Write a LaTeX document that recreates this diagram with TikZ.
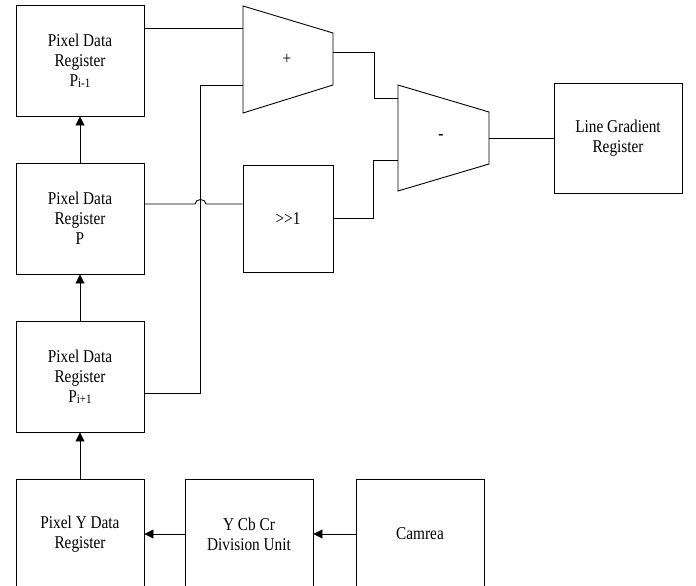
\documentclass[tikz,border=0pt]{standalone}
\usepackage{fontspec}
\setmainfont{Liberation Serif}[FakeStretch=0.85]
\usetikzlibrary{arrows.meta}
\newcommand{\sbs}[1]{\raisebox{-1pt}{\fontsize{13}{13}\selectfont #1}}
\begin{document}
\begin{tikzpicture}[x=1pt,y=-1pt,
  line width=0.9pt,
  blk/.style={draw, minimum width=128pt, minimum height=111pt, align=center,
    inner sep=0pt, font=\fontsize{18}{20}\selectfont},
  wire/.style={draw},
  arr/.style={draw, -{Triangle[length=9pt,width=9pt]}},
  lbl/.style={inner sep=0pt, font=\fontsize{18}{20}\selectfont}]
\useasboundingbox (0,0) rectangle (696,586);
\clip (0,0) rectangle (696,586);
% registers
\node[blk] (pim1) at (80,60.5) {Pixel Data\\Register\\P\sbs{i-1}};
\node[blk] (p) at (80,218.5) {Pixel Data\\Register\\P};
\node[blk] (pip1) at (80,376.5) {Pixel Data\\Register\\P\sbs{i+1}};
\node[blk, minimum height=110pt] (ydata) at (80,534) {Pixel Y Data\\Register};
\node[blk, minimum height=110pt] (ycbcr) at (249,534) {Y Cb Cr\\Division Unit};
\node[blk, minimum height=110pt] (cam) at (420,534) {Camrea};
\node[blk, minimum width=90pt, minimum height=107pt] (shift) at (288,218.5) {\mbox{>}\mbox{>}1};
\node[blk, minimum height=110pt] (lgr) at (618,138) {Line Gradient\\Register};
% adder trapezoid
\draw (243,6) -- (333,33) -- (333,85) -- (243,113) -- cycle;
\node[lbl] (plus) at (287,59) {+};
% subtractor trapezoid
\draw (398,85) -- (489,112) -- (489,164) -- (398,191) -- cycle;
\node[lbl] (minus) at (441,137) {\textbf{-}};
% ports
\coordinate (plusin1) at (243,28);
\coordinate (plusin2) at (243,85);
\coordinate (plusout) at (333,52);
\coordinate (minin1) at (398,98);
\coordinate (minin2) at (398,160);
\coordinate (minout) at (489,138);
\coordinate (pipout) at (144,393);
\coordinate (pout) at (144,204);
% arrows
\draw[arr] (p.north) -- (pim1.south);
\draw[arr] (pip1.north) -- (p.south);
\draw[arr] (ydata.north) -- (pip1.south);
\draw[arr] (ycbcr.west) -- (ydata.east);
\draw[arr] (cam.west) -- (ycbcr.east);
% wires
\draw[wire] (pim1.east |- plusin1) -- (plusin1);
\draw[wire] (pipout) -- (200,393) -- (200,85) -- (plusin2);
\draw[wire] (plusout) -- (374,52) -- (374,98) -- (minin1);
\draw[wire] (pout) -- (195,204) arc[start angle=180, end angle=360, x radius=5.5, y radius=4.5] -- (shift.west |- pout);
\draw[wire] (shift.east) -- (373,218.5) -- (373,160) -- (minin2);
\draw[wire] (minout) -- (lgr.west);
\end{tikzpicture}
\end{document}
